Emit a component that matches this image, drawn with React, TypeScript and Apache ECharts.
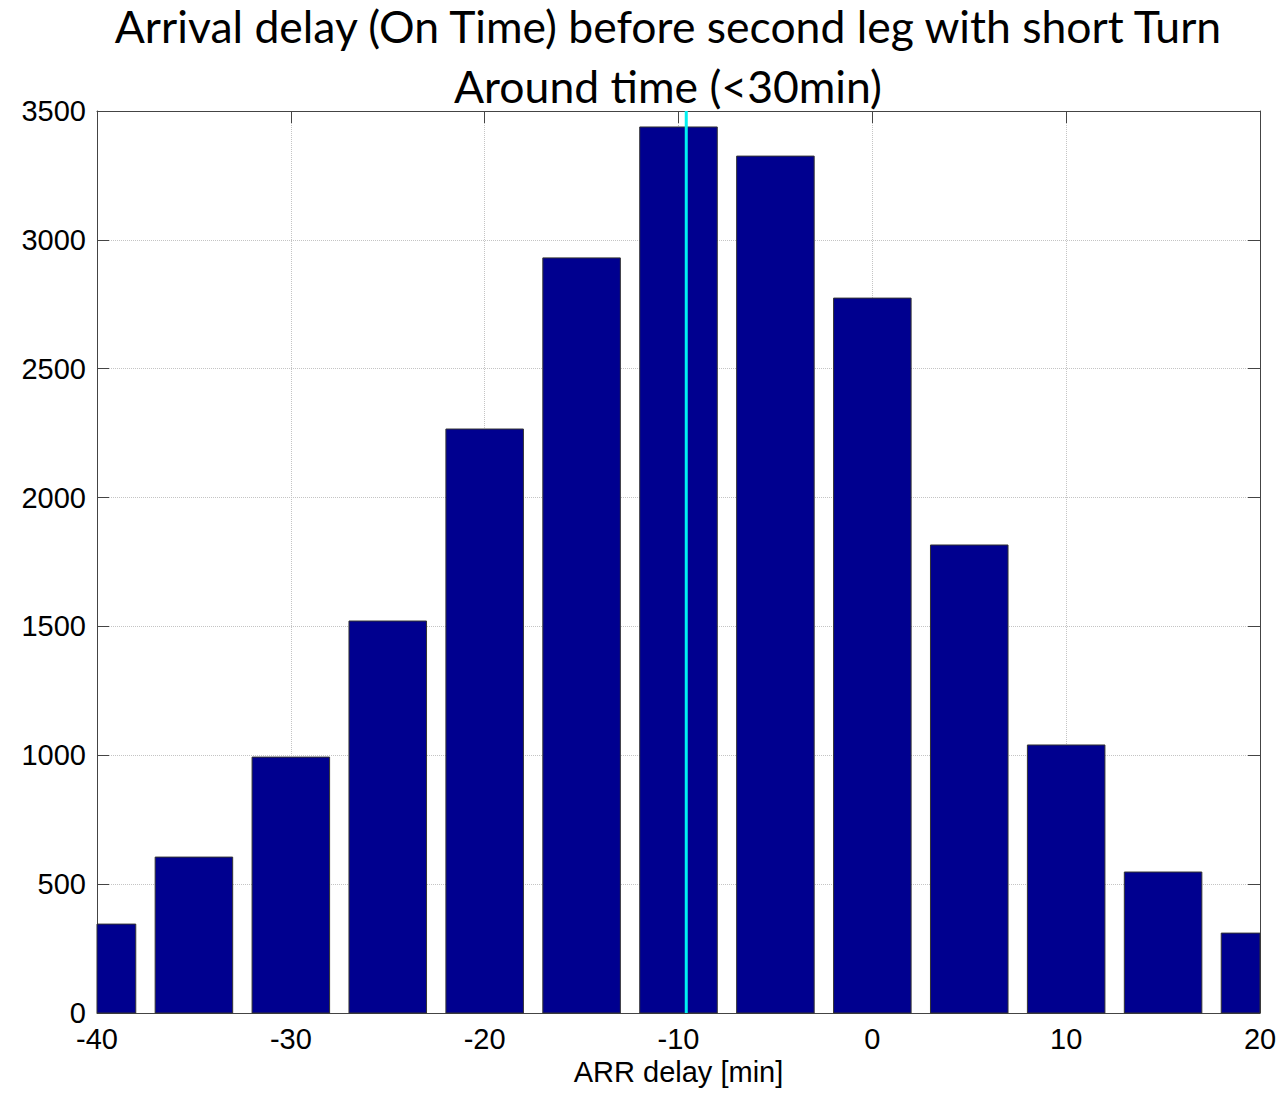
import React, { useEffect, useRef } from "react";
import * as echarts from "echarts";

// Histogram bins (centre of each 5‑minute bin) and flight counts
const binCenters = [-40, -35, -30, -25, -20, -15, -10, -5, 0, 5, 10, 15, 20];
const counts = [345, 605, 993, 1521, 2266, 2930, 3438, 3325, 2774, 1816, 1040, 547, 310];
const meanDelay = -9.6;

const titleLines = [
  "Arrival delay (On Time) before second leg with short Turn",
  "Around time (<30min)",
];
const xAxisName = "ARR delay [min]";

const X_MIN = -40;
const X_MAX = 20;
const X_STEP = 10;
const Y_MIN = 0;
const Y_MAX = 3500;
const Y_STEP = 500;

const BIN_WIDTH = 5;
const BAR_FRACTION = 0.8;

const labelFont = "'Liberation Sans', Arial, sans-serif";
const titleFont = "Lato, 'Open Sans', sans-serif";

export default function App() {
  const ref = useRef<HTMLDivElement>(null);

  useEffect(() => {
    if (!ref.current) return;
    const chart = echarts.init(ref.current, null, { renderer: "svg" });

    const halfBar = (BIN_WIDTH * BAR_FRACTION) / 2;
    const boxColor = "#444";
    const tickStyle = { show: true, inside: true, length: 12, lineStyle: { color: boxColor, width: 1 } };

    const option: any = {
      animation: false,
      backgroundColor: "#ffffff",
      grid: { left: 97, right: 21, top: 111, bottom: 81, containLabel: false },
      graphic: titleLines.map((line, i) => ({
        type: "text",
        x: 668,
        y: 25.5 + i * 60,
        style: {
          text: line,
          font: `44.5px ${titleFont}`,
          fill: "#000",
          align: "center",
          verticalAlign: "middle",
          lineHeight: 48,
        },
        z: 10,
      })),
      xAxis: [
        {
          type: "value",
          min: X_MIN,
          max: X_MAX,
          interval: X_STEP,
          position: "bottom",
          axisLine: { show: true, onZero: false, lineStyle: { color: boxColor, width: 1 } },
          axisTick: tickStyle,
          axisLabel: { show: true, color: "#000", fontSize: 29, fontFamily: labelFont, margin: 11 },
          splitLine: { show: true, lineStyle: { color: "#c4c4c4", type: "dotted", width: 1 } },
          name: xAxisName,
          nameLocation: "middle",
          nameGap: 44,
          nameTextStyle: { color: "#000", fontSize: 29, fontFamily: labelFont },
        },
        {
          type: "value",
          min: X_MIN,
          max: X_MAX,
          interval: X_STEP,
          position: "top",
          axisLine: { show: true, onZero: false, lineStyle: { color: boxColor, width: 1 } },
          axisTick: tickStyle,
          axisLabel: { show: false },
          splitLine: { show: false },
        },
      ],
      yAxis: [
        {
          type: "value",
          min: Y_MIN,
          max: Y_MAX,
          interval: Y_STEP,
          position: "left",
          axisLine: { show: true, onZero: false, lineStyle: { color: boxColor, width: 1 } },
          axisTick: tickStyle,
          axisLabel: {
            show: true,
            color: "#000",
            fontSize: 29,
            lineHeight: 18,
            fontFamily: labelFont,
            margin: 11,
            formatter: (v: number) => String(v),
          },
          splitLine: { show: true, lineStyle: { color: "#c4c4c4", type: "dotted", width: 1 } },
        },
        {
          type: "value",
          min: Y_MIN,
          max: Y_MAX,
          interval: Y_STEP,
          position: "right",
          axisLine: { show: true, onZero: false, lineStyle: { color: boxColor, width: 1 } },
          axisTick: tickStyle,
          axisLabel: { show: false },
          splitLine: { show: false },
        },
      ],
      series: [
        {
          type: "custom",
          xAxisIndex: 0,
          yAxisIndex: 0,
          data: binCenters.map((c, i) => [c, counts[i]]),
          encode: { x: 0, y: 1 },
          renderItem: (params: any, api: any) => {
            const c = api.value(0);
            const v = api.value(1);
            const topLeft = api.coord([c - halfBar, v]);
            const bottomRight = api.coord([c + halfBar, 0]);
            const shape = echarts.graphic.clipRectByRect(
              {
                x: topLeft[0],
                y: topLeft[1],
                width: bottomRight[0] - topLeft[0],
                height: bottomRight[1] - topLeft[1],
              },
              {
                x: params.coordSys.x,
                y: params.coordSys.y,
                width: params.coordSys.width,
                height: params.coordSys.height,
              }
            );
            if (!shape) return null;
            return {
              type: "rect",
              shape,
              style: { fill: "#00008F", stroke: "#333", lineWidth: 1 },
            };
          },
          z: 3,
        },
        {
          type: "line",
          xAxisIndex: 0,
          yAxisIndex: 0,
          data: [
            [meanDelay, Y_MIN],
            [meanDelay, Y_MAX],
          ],
          symbol: "none",
          lineStyle: { color: "#00F0F0", width: 3 },
          z: 5,
        },
      ],
    };

    chart.setOption(option);
    return () => chart.dispose();
  }, []);

  return (
    <div
      ref={ref}
      style={{ position: "fixed", left: 0, top: 0, width: 1281, height: 1094, background: "#fff" }}
    />
  );
}
